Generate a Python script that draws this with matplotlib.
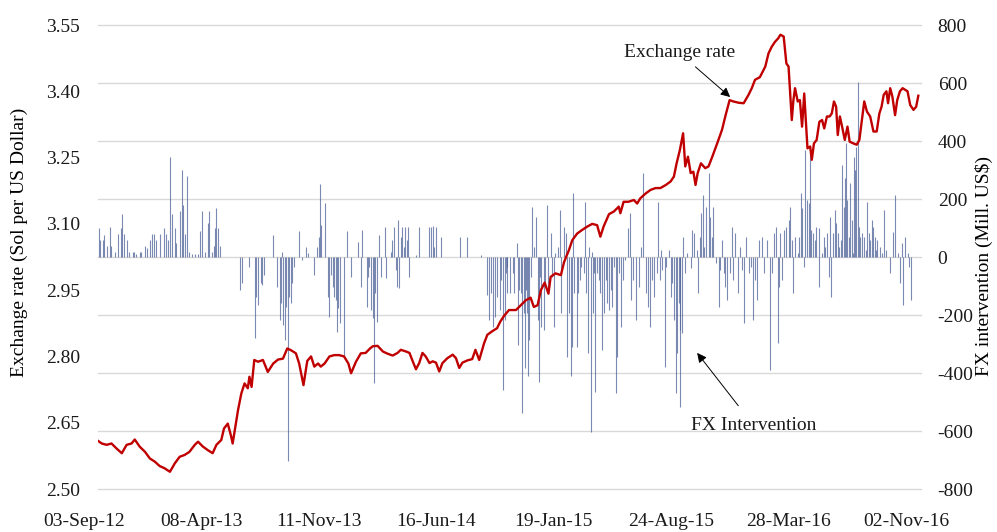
import numpy as np
import pandas as pd
import matplotlib
matplotlib.use('Agg')
import matplotlib.pyplot as plt
import matplotlib.transforms as mtransforms

# x positions are calendar days counted from the first observation
start = pd.Timestamp('2012-09-03')
tick_dates = ['2012-09-03', '2013-04-08', '2013-11-11', '2014-06-16',
              '2015-01-19', '2015-08-24', '2016-03-28', '2016-11-02']

# exchange rate (Sol per US Dollar)
er_day = [0, 7, 16, 25, 34, 44, 53, 62, 68, 77, 87, 96, 105, 114, 123, 133, 142, 151, 160, 169,
          179, 185, 194, 203, 212, 219, 228, 233, 240, 246, 249,
          253, 259, 265, 271, 277, 280, 284, 289, 296, 305, 314, 324, 333, 342, 350, 357, 366, 372,
          380, 387, 394, 400, 407, 412, 419, 428, 437, 446, 455, 463, 468, 477, 486, 495, 503,
          508, 517, 527, 536, 545, 554, 560, 570, 576, 582, 588, 594, 600, 606, 613, 619, 625, 631,
          637, 646, 656, 662, 668, 674, 683, 692, 698, 705, 714, 720, 729, 738, 744, 751,
          760, 773, 782, 791, 800, 806, 813, 819, 826, 833, 837, 846, 856, 862, 871, 877, 886, 895,
          905, 914, 923, 929, 935, 945, 954, 963, 966, 972, 981, 991, 997, 1003,
          1013, 1022, 1031, 1040, 1050, 1059, 1065, 1070, 1076, 1082, 1086, 1091, 1096, 1101, 1105,
          1109, 1115, 1123, 1129, 1136, 1145, 1154, 1160, 1168, 1175, 1185, 1194, 1203, 1209, 1215,
          1224, 1234, 1240, 1246, 1252, 1258,
          1262, 1268, 1273, 1277, 1280, 1283, 1286, 1289, 1294, 1298, 1302, 1306, 1309, 1312, 1317,
          1320, 1324, 1329, 1334, 1339, 1343, 1348, 1353, 1357, 1361, 1365, 1368, 1372, 1376, 1381,
          1386, 1390, 1397, 1403, 1408, 1412, 1417, 1422, 1428, 1434, 1440, 1445, 1449, 1453, 1458,
          1461, 1465, 1469, 1474, 1478, 1483, 1488, 1493, 1497, 1502, 1508, 1513, 1517]
er_rate = [2.609, 2.603, 2.600, 2.603, 2.592, 2.581, 2.600, 2.603, 2.612, 2.596, 2.584, 2.569, 2.562, 2.552, 2.547, 2.539, 2.558, 2.573, 2.577, 2.584,
           2.600, 2.607, 2.596, 2.588, 2.581, 2.600, 2.611, 2.637, 2.648, 2.620, 2.603,
           2.633, 2.679, 2.716, 2.739, 2.728, 2.754, 2.731, 2.792, 2.788, 2.792, 2.765, 2.784, 2.793, 2.795, 2.818, 2.814, 2.807, 2.784,
           2.735, 2.790, 2.800, 2.777, 2.784, 2.777, 2.784, 2.800, 2.803, 2.803, 2.800, 2.784, 2.762, 2.788, 2.807, 2.808, 2.818,
           2.823, 2.824, 2.811, 2.806, 2.802, 2.808, 2.815, 2.811, 2.808, 2.789, 2.771, 2.785, 2.808, 2.800, 2.785, 2.789, 2.786, 2.766,
           2.785, 2.796, 2.804, 2.796, 2.774, 2.786, 2.791, 2.794, 2.815, 2.792, 2.830, 2.849, 2.857, 2.864, 2.879, 2.892,
           2.905, 2.905, 2.916, 2.927, 2.933, 2.912, 2.916, 2.950, 2.967, 2.942, 2.980, 2.988, 2.984, 3.014, 3.041, 3.063, 3.078, 3.086,
           3.094, 3.100, 3.097, 3.071, 3.094, 3.122, 3.128, 3.139, 3.124, 3.150, 3.150, 3.154, 3.146, 3.158,
           3.169, 3.177, 3.181, 3.181, 3.188, 3.196, 3.207, 3.237, 3.267, 3.305, 3.230, 3.252, 3.215, 3.218, 3.188,
           3.215, 3.237, 3.226, 3.230, 3.252, 3.282, 3.313, 3.343, 3.380, 3.377, 3.374, 3.373, 3.392, 3.407, 3.426,
           3.432, 3.456, 3.486, 3.501, 3.512, 3.520,
           3.528, 3.524, 3.463, 3.456, 3.395, 3.335, 3.380, 3.407, 3.377, 3.380, 3.320, 3.395, 3.335, 3.271, 3.275,
           3.245, 3.282, 3.290, 3.331, 3.335, 3.316, 3.343, 3.343, 3.350, 3.377, 3.365, 3.301, 3.343, 3.320, 3.290,
           3.320, 3.286, 3.282, 3.279, 3.290, 3.328, 3.377, 3.354, 3.343, 3.309, 3.309, 3.350, 3.365, 3.392, 3.400,
           3.373, 3.407, 3.388, 3.346, 3.380, 3.400, 3.407, 3.403, 3.400, 3.369, 3.358, 3.365, 3.390]

# daily FX intervention (Mill. US$)
fx_day = [1, 4, 10, 12, 16, 22, 24, 31, 37, 42, 45, 48, 53, 58, 64, 67, 71, 77, 80, 87,
          91, 96, 100, 104, 107, 114, 122, 126, 129, 134, 136, 142, 145, 151, 155, 157, 160, 164, 168, 173,
          179, 184, 189, 192, 197, 203, 206, 210, 214, 217, 219, 222, 226,
          262, 267, 279, 290, 293, 295, 301, 304, 307, 323, 331, 336, 339, 340, 342, 345, 348, 351, 354, 356,
          358, 363, 371, 377, 385, 389, 400, 405, 408, 411, 412, 419, 425, 428, 431, 434, 437, 440, 442, 444,
          448, 454, 461, 468, 481, 486, 489, 497, 500,
          502, 505, 508, 510, 512, 516, 519, 524, 531, 533, 541, 543, 547, 551, 553, 554, 557, 560, 563, 565,
          568, 571, 574, 576, 588, 594, 613, 616, 619, 622, 625, 635, 670, 683, 708, 720, 723, 727, 731, 735,
          738, 743, 746, 749, 752, 756,
          754, 757, 762, 767, 770, 775, 777, 779, 782, 785, 787, 789, 791, 794, 795, 797, 800, 803, 806, 810,
          813, 816, 818, 820, 824, 826, 830, 832, 837, 840, 843, 846, 851, 854, 857, 862, 865, 868, 871, 874,
          877, 879, 881, 885, 888, 891, 894, 899, 900, 903, 906, 908, 911, 914, 916, 918, 920, 923, 926, 929,
          932, 935, 939, 941, 945, 948, 951, 954, 957, 959, 963, 967, 971, 975, 980, 983, 986, 989, 994, 1000,
          1004, 1008,
          1013, 1017, 1021, 1025, 1028, 1033, 1035, 1039, 1042, 1043, 1048, 1051, 1056, 1059, 1062, 1065, 1068, 1071, 1074, 1076,
          1077, 1080, 1082, 1086, 1089, 1096, 1099, 1103, 1107, 1109, 1113, 1116, 1119, 1121, 1125, 1129, 1132, 1135, 1138, 1143,
          1148, 1151, 1154, 1157, 1160, 1164, 1168, 1172, 1175, 1178, 1183, 1188, 1191, 1195, 1199, 1203, 1207, 1212, 1215, 1218,
          1223, 1228, 1232, 1237, 1242, 1246, 1250, 1254, 1258,
          1259, 1262, 1265, 1269, 1273, 1277, 1280, 1283, 1286, 1289, 1294, 1297, 1300, 1302, 1305, 1308, 1311, 1314, 1316, 1318,
          1322, 1325, 1328, 1333, 1334, 1339, 1342, 1345, 1348, 1351, 1354, 1356, 1359, 1362, 1365, 1368, 1371, 1374, 1376, 1379,
          1382, 1384, 1386, 1388, 1391, 1394, 1396, 1398, 1399, 1402, 1405, 1408, 1410, 1413, 1417, 1420, 1423, 1425, 1428, 1431,
          1434, 1437, 1439, 1441, 1446, 1449, 1453, 1458, 1465, 1470, 1474, 1480, 1483, 1486, 1489, 1493, 1497, 1500, 1503]
fx_val = [99, 59, 59, 76, 38, 102, 38, 18, 79, 99, 148, 79, 59, 18, 18, 18, 10, 18, 18, 38,
          30, 59, 79, 79, 59, 79, 99, 79, 59, 346, 148, 99, 49, 160, 300, 179, 79, 279, 18, 10,
          10, 10, 91, 160, 18, 118, 160, 18, 38, 99, 168, 99, 38,
          -114, -91, -33, -280, -137, -165, -91, -97, -62, 76, -102, -217, -160, 18, -234, -286, -171, -705, -137, -160,
          -91, -33, 91, -10, 36, 13, -62, 36, 70, 252, 110, 187, -137, -206, -62, -102, -137, -148, -257, -177,
          -229, -349, 91, -68, 53, -102, 93, -171, -68,
          -33, -183, -211, -435, -125, -223, 76, -68, 105, -74, 18, 59, 105, -45, -102, 128, -108, 70, 105, 36,
          105, 59, 105, -68, 7, 105, 105, 105, 107, 36, 105, 70, 70, 70, 7, -131, -217, -125, -240, -206,
          -137, -183, -79, -458, -217, -125,
          -56, -33, -125, -56, -125, 47, -303, -114, -125, -539, -194, -384, -114, -194, -412, -286, -68, 174, 36, 139,
          -217, -430, -68, -240, -252, -102, 179, -125, 82, -68, -240, 13, 36, 162, -194, 105, 82, -344, -194, -412,
          -309, 219, -125, -309, -125, -79, -33, -56, 191, -125, -332, 36, -602, 18, -194, -56, -464, -56, -79, -125,
          -320, -194, -79, -160, -183, -114, -171, -33, -470, -344, -56, -240, -79, -10, 99, 151, -148, -79, -217, -102,
          36, 288,
          -125, -171, -240, -79, -137, -56, 191, -79, 24, -45, -378, -33, 24, -137, -91, -217, -470, -332, -160, -252,
          -516, -263, 70, -56, 13, -39, 93, 82, 24, -125, 70, 151, 214, 36, 174, 288, 139, 70, 174, -22,
          -171, -45, 59, -56, -102, -148, -56, 105, -79, 82, -125, 36, -45, -229, 70, -56, -33, -217, -79, -148,
          59, 70, -56, 59, -390, -56, 82, 105, -298,
          -102, 82, -79, 93, 105, 128, 174, 59, -125, 70, 13, 70, 219, 168, -33, 369, 196, 185, 357, 93,
          82, 59, 105, -102, 99, 13, 70, 36, 82, -68, 139, -137, 82, 162, 116, 82, 36, 59, 317, 174,
          271, 392, 196, 70, 254, 128, 13, 346, 300, 380, 604, 105, 70, 82, 70, 24, 191, 82, 59, 128,
          105, 70, 24, 59, 36, 13, 162, 24, -56, 87, 214, 13, -91, 47, -165, 70, 13, -33, -148]

plt.rcParams['font.family'] = ['Liberation Serif', 'DejaVu Serif']
plt.rcParams['font.size'] = 14
plt.rcParams['text.color'] = '#1a1a1a'
plt.rcParams['axes.unicode_minus'] = False

fig = plt.figure(figsize=(9.97, 5.32), dpi=100)
ax1 = fig.add_axes([0.0983, 0.0808, 0.8255, 0.8722])
ax2 = ax1.twinx()

# bars (right axis) behind the exchange-rate line (left axis)
ax1.set_zorder(2)
ax2.set_zorder(1)
ax1.patch.set_visible(False)

ax2.vlines(fx_day, 0, fx_val, colors='#4f6398', lw=0.8, alpha=0.75)
ax2.set_ylim(-800, 800)
ax2.set_yticks(np.arange(-800, 801, 200))
ax2.grid(axis='y', color='#d9d9d9', lw=1.0)
ax2.set_axisbelow(True)
for gl in ax2.get_ygridlines():
    gl.set_clip_on(False)

ax1.plot(er_day, er_rate, color='#c00000', lw=1.7)
ax1.set_ylim(2.50, 3.55)
ax1.set_yticks(np.arange(2.50, 3.551, 0.15))
ax1.yaxis.set_major_formatter(plt.FormatStrFormatter('%.2f'))

tick_ts = pd.to_datetime(tick_dates)
ax1.set_xlim(0, 1522)
ax1.set_xticks((tick_ts - start).days)
ax1.set_xticklabels(tick_ts.strftime('%d-%b-%y'))

for a in (ax1, ax2):
    for s in a.spines.values():
        s.set_visible(False)
    a.tick_params(length=0, labelcolor='#1a1a1a')
ax1.tick_params(axis='y', pad=13)
ax2.tick_params(axis='y', pad=12)
ax1.tick_params(axis='x', pad=17)

shift = mtransforms.ScaledTranslation(-14 / 100, 0, fig.dpi_scale_trans)
for lab in ax1.get_xticklabels():
    lab.set_transform(lab.get_transform() + shift)

ax1.set_ylabel('Exchange rate (Sol per US Dollar)')
ax1.yaxis.set_label_coords(-0.085, 0.532)
ax2.set_ylabel(r'FX intervention (Mill. US\$)')
ax2.yaxis.set_label_coords(1.066, 0.48)

arrow = dict(arrowstyle='-|>', color='black', lw=0.7, mutation_scale=14, shrinkA=3, shrinkB=0)
ax1.annotate('Exchange rate', xy=(1169, 3.387), xytext=(1075, 3.487),
             ha='center', va='center', arrowprops=arrow)
ax1.annotate('FX Intervention', xy=(1108, 2.808), xytext=(1213, 2.643),
             ha='center', va='center', arrowprops=dict(arrow, shrinkA=8))

fig.savefig('out.png', dpi=100)
